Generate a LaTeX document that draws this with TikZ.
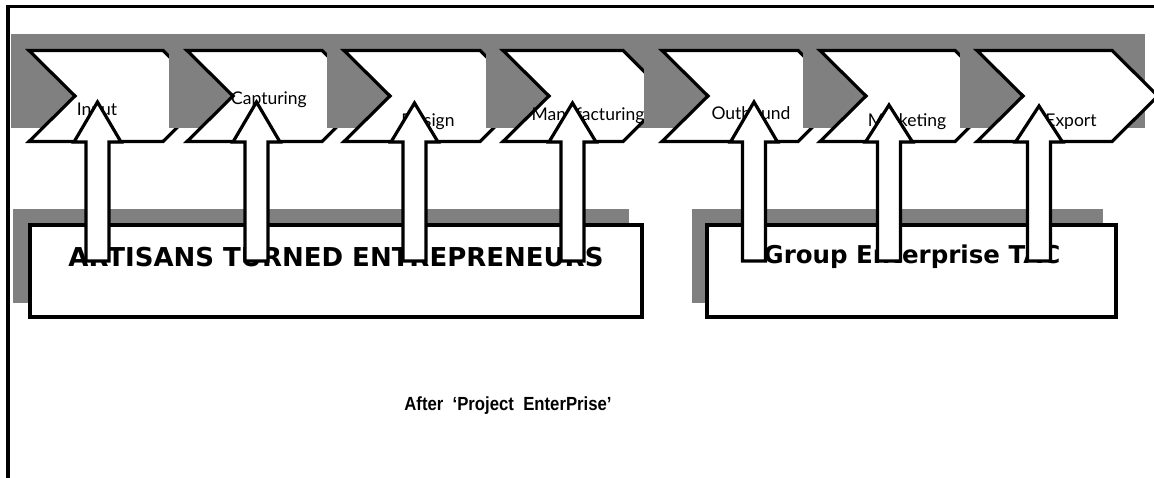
\documentclass[tikz,border=0pt]{standalone}
\usepackage{fontspec}
\setmainfont{Lato}
\newfontfamily\boxfont{DejaVu Sans}
\newfontfamily\capfont{Liberation Sans}
\definecolor{shade}{RGB}{128,128,128}
\tikzset{
  outline/.style={draw=black,line width=3.2pt,line join=miter,fill=white},
  shadebox/.style={fill=shade,draw=none},
  steplabel/.style={font=\fontsize{17.5}{20}\selectfont,inner sep=0pt},
  boxlabel/.style={font=\boxfont\bfseries\fontsize{#1}{30}\selectfont,inner sep=0pt},
  caption/.style={font=\capfont\bfseries\fontsize{19}{22}\selectfont,inner sep=0pt}
}
% chevron: left edge, shoulder x
\newcommand{\chev}[2]{%
  \draw[outline] (#1,50.5) -- (#2,50.5) -- ({#2+46},96) -- (#2,141.5)
    -- (#1,141.5) -- ({#1+46},96) -- cycle;}
% upward block arrow: centre x, tip y
\newcommand{\uparr}[2]{%
  \draw[outline] (#1,#2) -- ({#1+23.5},142) -- ({#1+11.5},142) -- ({#1+11.5},261)
    -- ({#1-11.5},261) -- ({#1-11.5},142) -- ({#1-23.5},142) -- cycle;}
\begin{document}
\begin{tikzpicture}[x=1pt,y=-1pt]
\useasboundingbox (0,0) rectangle (1154,478);
\fill[white] (0,0) rectangle (1154,478);
% outer frame
\draw[line width=3.2pt] (8,480) -- (8,6.5) -- (1160,6.5);

% value chain: shaded bands with chevrons on top
\fill[shadebox] (11,34) rectangle (169,128);   \chev{29}{163}
\fill[shadebox] (169,34) rectangle (327,128);  \chev{187}{322}
\fill[shadebox] (327,34) rectangle (486,128);  \chev{344}{480}
\fill[shadebox] (486,34) rectangle (644,128);  \chev{503}{623}
\fill[shadebox] (644,34) rectangle (803,128);  \chev{662}{798}
\fill[shadebox] (803,34) rectangle (960,128);  \chev{820}{955}
\fill[shadebox] (960,34) rectangle (1145,128); \chev{977}{1112}

\node[steplabel] (input) at (97,111) {Input};
\node[steplabel] (capt) at (269,100) {Capturing};
\node[steplabel] (design) at (428,122) {Design};
\node[steplabel] (manu) at (588,116) {Manufacturing};
\node[steplabel] (outb) at (751,113) {Outbound};
\node[steplabel] (mark) at (907,122) {Marketing};
\node[steplabel] (expo) at (1071,122) {Export};

% actor boxes with shadows
\fill[shadebox] (13,209) rectangle (629,303);
\draw[outline] (30,225) rectangle (642,317);
\node[boxlabel=26] (ate) at (336,257) {ARTISANS TURNED ENTREPRENEURS};
\fill[shadebox] (692,209) rectangle (1103,303);
\draw[outline] (707,225) rectangle (1116,317);
\node[boxlabel=24.5] (get) at (912,257) {Group Enterprise TAC};

% contributions to each step
\uparr{97.5}{102}
\uparr{256.5}{102}
\uparr{414.5}{103}
\uparr{572.5}{103}
\uparr{754}{102}
\uparr{889}{105}
\uparr{1039}{106}

\node[caption] (cap) at (508,406) {\scalebox{0.88}[1]{After\ \ ‘Project\ \ EnterPrise’}};
\end{tikzpicture}
\end{document}
